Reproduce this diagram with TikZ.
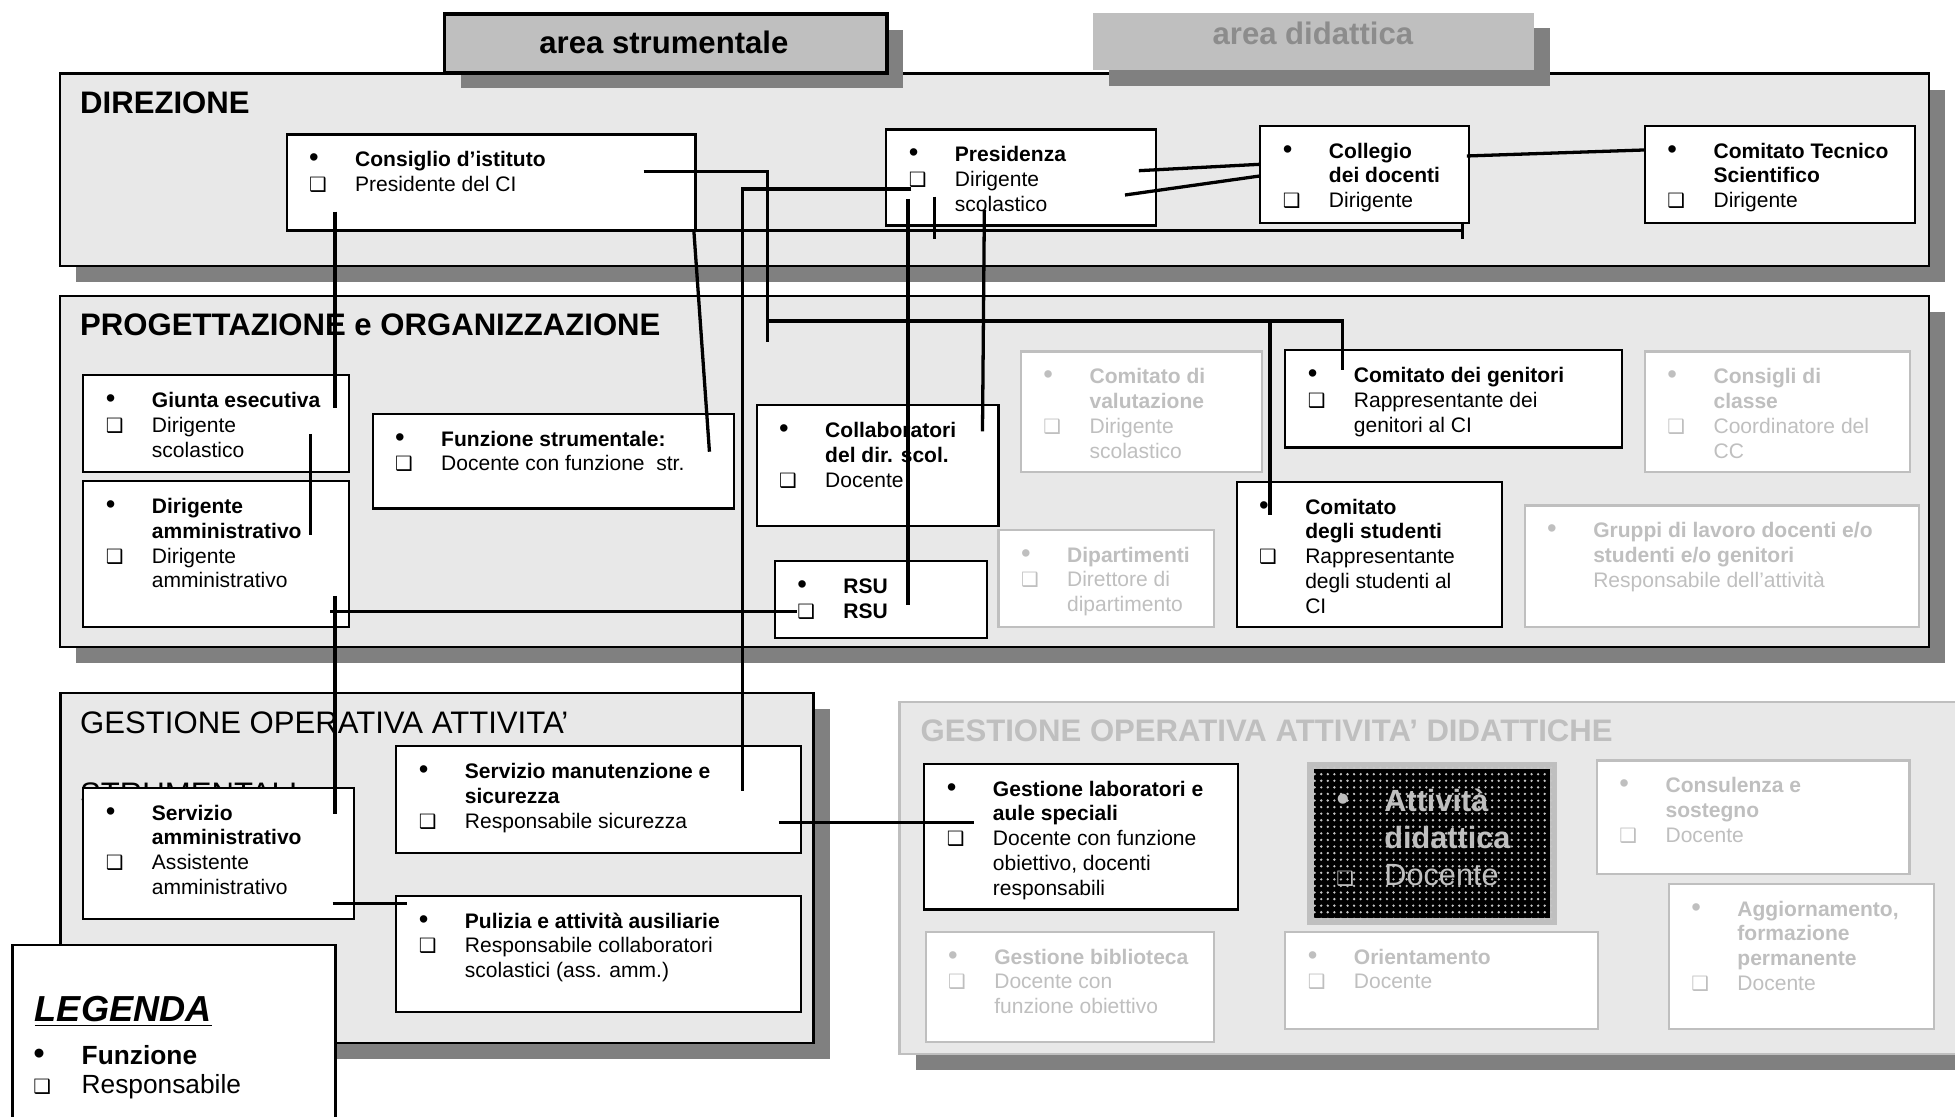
\documentclass[tikz,border=0pt]{standalone}
\usepackage{fontspec}
\setmainfont{Liberation Sans}
\newfontfamily\dingfont{DejaVu Sans}
\usepackage{array}
\usetikzlibrary{shadows,patterns}

\newlength{\dpx}
\setlength{\dpx}{0.2mm}
\definecolor{panelfill}{gray}{0.91}
\definecolor{dropgray}{gray}{0.5}
\definecolor{tabgray}{gray}{0.75}
\definecolor{tabtext}{gray}{0.55}

\pgfdeclarepatternformonly{bigdots}{\pgfqpoint{-1pt}{-1pt}}{\pgfqpoint{1pt}{1pt}}{\pgfqpoint{3pt}{3pt}}%
  {\pgfpathcircle{\pgfqpoint{0pt}{0pt}}{0.6pt}\pgfusepath{fill}}

\newcommand{\bul}{{\fontsize{12.5}{12}\selectfont •}}
\newcommand{\sqb}{{\dingfont\fontsize{9}{9}\selectfont ❑}}
\newcommand{\rolebox}[3]{%
  \begin{minipage}[c][#2\dpx][t]{#1\dpx}%
    \vspace{6.8pt}%
    \begin{tabular}[t]{@{\hspace{18\dpx}}p{37\dpx}@{}l@{}}#3\end{tabular}%
  \end{minipage}}

\begin{document}
\begin{tikzpicture}[x=0.2mm, y=-0.2mm]
  \tikzset{
    panel/.style={draw, fill=panelfill, line width=1pt, anchor=north west, inner sep=0pt,
      drop shadow={shadow xshift=13\dpx, shadow yshift=-13\dpx, fill=dropgray, opacity=1}},
    tab/.style={fill=tabgray, anchor=north west, inner sep=0pt,
      drop shadow={shadow xshift=13\dpx, shadow yshift=-12.5\dpx, fill=dropgray, opacity=1}},
    heading/.style={anchor=base west, inner sep=0pt, font=\fontsize{14.2}{17}\selectfont\bfseries},
    role/.style={draw, fill=white, line width=1pt, anchor=north west, inner sep=0pt,
      font=\fontsize{9.6}{11.34}\selectfont},
    faded/.style={role, draw=tabgray, text=tabgray},
    link/.style={line width=1.5pt},
  }
  \useasboundingbox (0,0) rectangle (1568,895.1);

  % the four areas
  \node[panel, minimum width=1499\dpx, minimum height=154.5\dpx] (direzione) at (47,58) {};
  \node[panel, minimum width=1499\dpx, minimum height=281.5\dpx] (progettazione) at (47,236.5) {};
  \node[panel, minimum width=604\dpx, minimum height=280.5\dpx] (gestione) at (47.6,555) {};
  \node[panel, draw=tabgray, minimum width=880\dpx, minimum height=282.5\dpx] (didattiche) at (720.6,562) {};

  \node[tab, draw, line width=1.6pt, minimum width=355\dpx, minimum height=47\dpx] (strumentale) at (355,10) {};
  \node[heading, anchor=base] (strumentale-t) at (532.5,43.3) {area strumentale};
  \node[tab, minimum width=354\dpx, minimum height=46\dpx] (didattica) at (876,10) {};
  \node[heading, anchor=base, text=tabtext] (didattica-t) at (1053,35.5) {area didattica};

  \node[heading] (direzione-t) at (64,90.9) {DIREZIONE};
  \node[heading] (progettazione-t) at (64,268.7) {PROGETTAZIONE e ORGANIZZAZIONE};
  \node[heading, font=\fontsize{14.2}{17}\selectfont] (gestione-t) at (64,588.2) {GESTIONE OPERATIVA ATTIVITA’};
  \node[heading, font=\fontsize{14.2}{17}\selectfont] (gestione-t2) at (64,645.2) {STRUMENTALI};
  \node[heading, text=tabgray] (didattiche-t) at (738,594.9) {GESTIONE OPERATIVA ATTIVITA’ DIDATTICHE};

  % direzione
  \node[role] (consiglio) at (229,107) {\rolebox{328}{77}{%
    \bul & \textbf{Consiglio d’istituto}\\ \sqb & Presidente del CI}};
  \node[role] (presidenza) at (710,103) {\rolebox{216}{77}{%
    \bul & \textbf{Presidenza}\\ \sqb & Dirigente\\ & scolastico}};
  \node[role] (collegio) at (1010,100) {\rolebox{167}{78}{%
    \bul & \textbf{Collegio}\\ & \textbf{dei docenti}\\ \sqb & Dirigente}};
  \node[role] (tecnico) at (1318.5,100) {\rolebox{216.5}{78}{%
    \bul & \textbf{Comitato Tecnico}\\ & \textbf{Scientifico}\\ \sqb & Dirigente}};

  % progettazione e organizzazione
  \node[role] (giunta) at (66,300) {\rolebox{213}{78}{%
    \bul & \textbf{Giunta esecutiva}\\ \sqb & Dirigente\\ & scolastico}};
  \node[role] (diramm) at (66,385) {\rolebox{213}{117}{%
    \bul & \textbf{Dirigente}\\ & \textbf{amministrativo}\\ \sqb & Dirigente\\ & amministrativo}};
  \node[role] (funzione) at (298,331) {\rolebox{289.5}{76}{%
    \bul & \textbf{Funzione strumentale:}\\ \sqb & Docente con funzione\ \ str.}};
  \node[role] (collab) at (606,324) {\rolebox{194}{97}{%
    \bul & \textbf{Collaboratori}\\ & \textbf{del dir. scol.}\\ \sqb & Docente}};
  \node[role] (rsu) at (620.6,449) {\rolebox{170.4}{62}{%
    \bul & \textbf{RSU}\\ \sqb & \textbf{RSU}}};
  \node[faded] (valutazione) at (818,281) {\rolebox{193}{97}{%
    \bul & \textbf{Comitato di}\\ & \textbf{valutazione}\\ \sqb & Dirigente\\ & scolastico}};
  \node[role] (genitori) at (1030,280) {\rolebox{270}{78}{%
    \bul & \textbf{Comitato dei genitori}\\ \sqb & Rappresentante dei\\ & genitori al CI}};
  \node[faded] (consigli) at (1318.5,281) {\rolebox{212.5}{97}{%
    \bul & \textbf{Consigli di}\\ & \textbf{classe}\\ \sqb & Coordinatore del\\ & CC}};
  \node[faded] (dipartimenti) at (800,424) {\rolebox{173}{78}{%
    \bul & \textbf{Dipartimenti}\\ \sqb & Direttore di\\ & dipartimento}};
  \node[role] (studenti) at (991,385.5) {\rolebox{212.6}{116.5}{%
    \bul & \textbf{Comitato}\\ & \textbf{degli studenti}\\ \sqb & Rappresentante\\ & degli studenti al\\ & CI}};
  \node[faded] (gruppi) at (1222,404.5) {\rolebox{316}{97.5}{%
    \bul & \textbf{Gruppi di lavoro docenti e/o}\\ & \textbf{studenti e/o genitori}\\ & Responsabile dell’attività}};

  % gestione operativa attivita' strumentali
  \node[role] (servamm) at (66,631) {\rolebox{217}{105}{%
    \bul & \textbf{Servizio}\\ & \textbf{amministrativo}\\ \sqb & Assistente\\ & amministrativo}};
  \node[role] (manutenzione) at (317,597.5) {\rolebox{324.6}{86}{%
    \bul & \textbf{Servizio manutenzione e}\\ & \textbf{sicurezza}\\ \sqb & Responsabile sicurezza}};
  \node[role] (pulizia) at (317,717.6) {\rolebox{324.6}{93.4}{%
    \bul & \textbf{Pulizia e attività ausiliarie}\\ \sqb & Responsabile collaboratori\\ & scolastici (ass. amm.)}};

  % gestione operativa attivita' didattiche
  \node[role] (laboratori) at (740.5,611.7) {\rolebox{251.8}{116.8}{%
    \bul & \textbf{Gestione laboratori e}\\ & \textbf{aule speciali}\\ \sqb & Docente con funzione\\ & obiettivo, docenti\\ & responsabili}};
  \node[role, draw=tabgray, line width=5.5\dpx, fill=black, text=tabgray,
    postaction={pattern=bigdots, pattern color=gray!45}, font=\fontsize{14}{17}\selectfont] (attivita) at (1048,611.5) {%
    \begin{minipage}[c][125\dpx][t]{195\dpx}\vspace{8.9pt}%
      \begin{tabular}[t]{@{\hspace{21\dpx}}p{38.6\dpx}@{}l@{}}
        {\fontsize{17}{17}\selectfont •} & \textbf{Attività}\\ & \textbf{didattica}\\ \sqb & Docente
      \end{tabular}\end{minipage}};
  \node[faded] (consulenza) at (1280,609) {\rolebox{250.6}{91}{%
    \bul & \textbf{Consulenza e}\\ & \textbf{sostegno}\\ \sqb & Docente}};
  \node[faded] (aggiornamento) at (1337.6,708) {\rolebox{212.4}{116.3}{%
    \bul & \textbf{Aggiornamento,}\\ & \textbf{formazione}\\ & \textbf{permanente}\\ \sqb & Docente}};
  \node[faded] (biblioteca) at (741.6,746.5) {\rolebox{231}{88.5}{%
    \bul & \textbf{Gestione biblioteca}\\ \sqb & Docente con\\ & funzione obiettivo}};
  \node[faded] (orientamento) at (1030,746.5) {\rolebox{250.5}{77.8}{%
    \bul & \textbf{Orientamento}\\ \sqb & Docente}};

  % legenda
  \node[role, line width=1.2pt, minimum width=259\dpx, minimum height=160\dpx] (legenda) at (9,757) {};
  \node[heading, font=\fontsize{16.5}{19}\selectfont\bfseries\itshape] (legenda-t) at (27.6,819.4) {\underline{LEGENDA}};
  \node[heading, font=\fontsize{12}{14}\selectfont] (legenda-fn) at (26.5,853.4) {\makebox[38.7\dpx][l]{\fontsize{15}{15}\selectfont •}\textbf{Funzione}};
  \node[heading, font=\fontsize{12}{14}\selectfont] (legenda-resp) at (26.5,876.9) {\makebox[38.7\dpx][l]{\sqb}Responsabile};

  % links
  \coordinate (ci1) at (516.3,137.7);
  \coordinate (ci2) at (615.6,274);
  \coordinate (ci3) at (268.7,169.8);
  \coordinate (ci4) at (556.5,185);
  \coordinate (gen1) at (615.6,257.5);
  \coordinate (gen2) at (1076.8,296.8);
  \coordinate (stu1) at (1018.6,257.5);
  \coordinate (stu2) at (1018.6,413);
  \coordinate (pr1) at (731,151.6);
  \coordinate (pr2) at (728.3,159.6);
  \coordinate (pr3) at (749.4,157.7);
  \coordinate (pr4) at (913.4,136.9);
  \coordinate (pr5) at (902.3,156.4);
  \coordinate (pr6) at (789.5,168.4);
  \coordinate (co1) at (1010,131.8);
  \coordinate (co2) at (1010,141.2);
  \coordinate (co3) at (1176.5,125.1);
  \coordinate (co4) at (1173,185);
  \coordinate (ct1) at (1318.4,120.3);
  \coordinate (fs1) at (569,362.3);
  \coordinate (gi1) at (268.7,327);
  \coordinate (gi2) at (249,348);
  \coordinate (da1) at (249,429);
  \coordinate (da2) at (264.7,490.6);
  \coordinate (da3) at (268.7,478);
  \coordinate (rs1) at (728.3,485.3);
  \coordinate (rs2) at (639.2,490.6);
  \coordinate (cl1) at (788,346);
  \coordinate (sa1) at (268.7,653);
  \coordinate (sa2) at (266.7,724.5);
  \coordinate (pu1) at (326.8,724.5);
  \coordinate (ma1) at (595.5,634.5);
  \coordinate (ma2) at (624.6,659.8);
  \coordinate (la1) at (781.2,659.8);

  \draw[link] (ci1) -| (ci2);
  \draw[link] (gen1) -| (gen2);
  \draw[link] (stu1) -- (stu2);
  \draw[link] (pr1) -| (ma1);
  \draw[link] (ci3) -- (gi1);
  \draw[link] (ci4) -- (co4) ++(0,-7) -- ++(0,14);
  \draw[link] (ci4) -- (fs1);
  \draw[link] (pr2) -- (rs1);
  \draw[link] (pr3) -- ++(0,34.3);
  \draw[link] (pr4) -- (co1);
  \draw[link] (pr5) -- (co2);
  \draw[link] (co3) -- (ct1);
  \draw[link] (pr6) -- (cl1);
  \draw[link] (gi2) -- (da1);
  \draw[link] (da2) -- (rs2);
  \draw[link] (da3) -- (sa1);
  \draw[link] (ma2) -- (la1);
  \draw[link] (sa2) -- (pu1);
\end{tikzpicture}
\end{document}
